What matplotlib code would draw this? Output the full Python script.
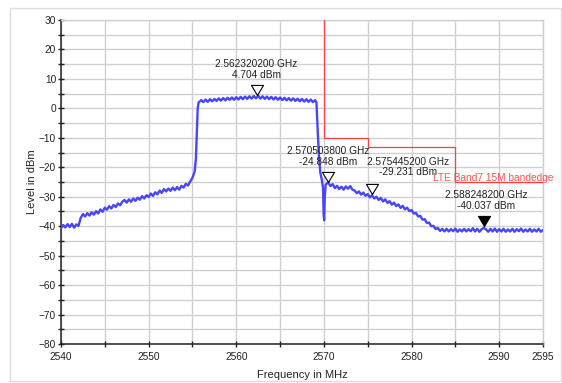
import matplotlib
matplotlib.use('Agg')
import matplotlib.pyplot as plt
from matplotlib.patches import Rectangle
from matplotlib.ticker import MultipleLocator, FixedLocator
import numpy as np

plt.rcParams['font.family'] = ['Liberation Sans', 'DejaVu Sans']

# --- spectrum trace (MHz, dBm) ---
skirt_lo_f = [2540.0, 2540.25, 2540.5, 2540.75, 2541.0, 2541.25, 2541.5, 2541.75, 2542.0, 2542.25,
              2542.5, 2542.75, 2543.0, 2543.25, 2543.5, 2543.75, 2544.0, 2544.25, 2544.5, 2544.75,
              2545.0, 2545.25, 2545.5, 2545.75, 2546.0, 2546.25, 2546.5, 2546.75, 2547.0, 2547.25,
              2547.5, 2547.75, 2548.0, 2548.25, 2548.5, 2548.75, 2549.0, 2549.25, 2549.5, 2549.75,
              2550.0, 2550.25, 2550.5, 2550.75, 2551.0, 2551.25, 2551.5, 2551.75, 2552.0, 2552.25,
              2552.5, 2552.75, 2553.0, 2553.25, 2553.5, 2553.75, 2554.0, 2554.25, 2554.5, 2554.75,
              2555.0, 2555.25, 2555.4, 2555.5, 2555.6]
skirt_lo_db = [-40.6, -39.6, -40.4, -39.3, -40.3, -39.2, -40.5, -39.4, -39.9, -37.2,
               -35.9, -36.7, -35.6, -36.4, -35.3, -36.1, -34.9, -35.7, -34.3, -35.1,
               -33.7, -34.4, -33.2, -34.0, -32.8, -33.5, -32.3, -32.9, -31.7, -31.1,
               -32.0, -30.9, -31.7, -30.6, -31.4, -30.3, -31.0, -29.8, -30.6, -29.5,
               -30.1, -28.9, -29.7, -28.5, -29.2, -27.9, -28.7, -27.4, -28.2, -27.2,
               -28.0, -26.9, -27.8, -26.7, -27.6, -26.3, -26.9, -25.6, -26.2, -24.8,
               -23.6, -21.5, -17.0, -8.0, 0.0]

channel_f = [2555.7, 2556.0, 2556.25, 2556.5, 2556.75, 2557.0, 2557.25, 2557.5, 2557.75, 2558.0,
             2558.25, 2558.5, 2558.75, 2559.0, 2559.25, 2559.5, 2559.75, 2560.0, 2560.25, 2560.5,
             2560.75, 2561.0, 2561.25, 2561.5, 2561.75, 2562.0, 2562.25, 2562.5, 2562.75, 2563.0,
             2563.25, 2563.5, 2563.75, 2564.0, 2564.25, 2564.5, 2564.75, 2565.0, 2565.25, 2565.5,
             2565.75, 2566.0, 2566.25, 2566.5, 2566.75, 2567.0, 2567.25, 2567.5, 2567.75, 2568.0,
             2568.25, 2568.5, 2568.75, 2569.0, 2569.15]
channel_db = [2.0, 2.8, 2.1, 3.0, 2.2, 3.1, 2.4, 3.2, 2.5, 3.4,
              2.6, 3.5, 2.7, 3.6, 2.9, 3.7, 2.9, 3.8, 3.0, 3.9,
              3.1, 4.0, 3.2, 4.1, 3.3, 4.2, 3.4, 4.3, 3.3, 4.1,
              3.2, 4.0, 3.1, 3.9, 3.0, 3.8, 2.9, 3.7, 2.8, 3.6,
              2.7, 3.5, 2.6, 3.4, 2.5, 3.3, 2.4, 3.2, 2.3, 3.1,
              2.2, 3.0, 2.1, 2.8, 2.0]

skirt_hi_f = [2569.3, 2569.45, 2569.6, 2569.75, 2569.9, 2569.97, 2570.03, 2570.1, 2570.2, 2570.35,
              2570.5, 2570.75, 2571.0, 2571.25, 2571.5, 2571.75, 2572.0, 2572.25, 2572.5, 2572.75,
              2573.0, 2573.25, 2573.5, 2573.75, 2574.0, 2574.25, 2574.5, 2574.75, 2575.0, 2575.25,
              2575.5, 2575.75, 2576.0, 2576.25, 2576.5, 2576.75, 2577.0, 2577.25, 2577.5, 2577.75,
              2578.0, 2578.25, 2578.5, 2578.75, 2579.0, 2579.25, 2579.5, 2579.75, 2580.0, 2580.25,
              2580.5, 2580.75, 2581.0, 2581.25, 2581.5, 2581.75, 2582.0, 2582.25, 2582.5, 2582.75,
              2583.0, 2583.25, 2583.5]
skirt_hi_db = [-8.0, -17.0, -22.0, -24.0, -27.0, -36.0, -38.0, -30.0, -26.0, -25.4,
               -25.2, -26.4, -25.7, -27.1, -26.3, -27.4, -26.6, -27.6, -26.5, -27.3,
               -26.4, -27.6, -27.9, -28.8, -28.2, -29.3, -28.6, -29.7, -29.1, -30.2,
               -29.5, -30.6, -30.0, -31.1, -30.4, -31.6, -30.9, -32.1, -31.5, -32.7,
               -32.0, -33.2, -32.6, -33.8, -33.1, -34.3, -33.7, -34.9, -34.5, -35.7,
               -35.5, -36.7, -36.5, -37.8, -37.6, -38.9, -38.8, -40.0, -39.9, -41.0,
               -40.6, -41.6, -40.9]

floor_f = [2583.75, 2584.0, 2584.25, 2584.5, 2584.75, 2585.0, 2585.25, 2585.5, 2585.75, 2586.0,
           2586.25, 2586.5, 2586.75, 2587.0, 2587.25, 2587.5, 2587.75, 2588.0, 2588.25, 2588.5,
           2588.75, 2589.0, 2589.25, 2589.5, 2589.75, 2590.0, 2590.25, 2590.5, 2590.75, 2591.0,
           2591.25, 2591.5, 2591.75, 2592.0, 2592.25, 2592.5, 2592.75, 2593.0, 2593.25, 2593.5,
           2593.75, 2594.0, 2594.25, 2594.5, 2594.75, 2595.0]
floor_db = [-41.8, -40.9, -41.8, -41.0, -41.7, -40.8, -41.9, -41.1, -41.8, -40.9,
            -41.8, -41.0, -41.7, -40.7, -41.8, -40.9, -41.9, -41.0, -40.6, -41.1,
            -41.9, -40.9, -41.8, -40.8, -41.9, -41.0, -41.8, -40.9, -41.9, -41.1,
            -41.8, -40.9, -41.9, -41.0, -41.7, -40.8, -41.9, -41.1, -41.8, -40.9,
            -41.9, -41.1, -41.8, -40.9, -41.9, -41.3]

# --- limit line (LTE Band7 15M band edge) ---
limit_f = [2570, 2570, 2575, 2575, 2585, 2585, 2595]
limit_db = [30, -10, -10, -13, -13, -25, -25]
limit_label = 'LTE Band7 15M bandedge'

# --- markers ---
marker_ghz = [2.5623202, 2.5705038, 2.5754452, 2.5882482]
marker_db = [4.704, -24.848, -29.231, -40.037]
marker_shift_px = [(0, 15), (0, 15), (36, 17), (2, 15)]
marker_filled = [False, False, False, True]

freq = skirt_lo_f + channel_f + skirt_hi_f + floor_f
level = skirt_lo_db + channel_db + skirt_hi_db + floor_db

fig = plt.figure(figsize=(5.62, 3.83), dpi=100, facecolor='white')
ax = fig.add_axes([0.1085, 0.1018, 0.8577, 0.846])

# light frame around everything
fig.patches.append(Rectangle((10 / 562, 2 / 383), 551 / 562, 373 / 383, transform=fig.transFigure,
                             fill=False, edgecolor='#dddddd', linewidth=1.0))

ax.plot(freq, level, color='#4646ff', linewidth=1.7, zorder=3)
ax.plot(limit_f, limit_db, color='#ff4040', linewidth=0.9, zorder=4)
ax.text(2582.45, -23.6, limit_label, color='#ff5050', fontsize=7.3, ha='left', va='center',
        clip_on=False, zorder=5)

tri = [(0, 0), (-0.6, 1), (0.6, 1), (0, 0)]
for g, db, (dx, dy), filled in zip(marker_ghz, marker_db, marker_shift_px, marker_filled):
    f = g * 1000
    ax.plot([f], [db], marker=tri, markersize=14.5, linestyle='none',
            markerfacecolor='black' if filled else 'white', markeredgecolor='black',
            markeredgewidth=0.8, zorder=6)
    ax.annotate(f'{g:.9f} GHz\n{db:.3f} dBm', (f, db), xytext=(dx, dy), textcoords='offset pixels',
                ha='center', va='bottom', fontsize=7.3, linespacing=1.1, color='#222222', zorder=7)

ax.set_xlim(2540, 2595)
ax.set_ylim(-80, 30)
ax.xaxis.set_major_locator(FixedLocator([2540, 2550, 2560, 2570, 2580, 2590, 2595]))
ax.xaxis.set_minor_locator(MultipleLocator(5))
ax.yaxis.set_major_locator(MultipleLocator(10))
ax.yaxis.set_minor_locator(MultipleLocator(5))
ax.grid(True, which='both', color='#cfcfcf', linewidth=1.0, zorder=0)
ax.set_axisbelow(True)

ax.tick_params(which='both', direction='inout', length=5, width=1.0, color='#222222',
               labelsize=7.3, labelcolor='#222222')
ax.tick_params(axis='x', which='both', pad=3)
ax.tick_params(axis='y', which='both', pad=1)
ax.tick_params(axis='both', which='minor', length=4)

for s in ['top', 'right']:
    ax.spines[s].set_color('#cfcfcf')
    ax.spines[s].set_linewidth(1.0)
for s in ['left', 'bottom']:
    ax.spines[s].set_color('#222222')
    ax.spines[s].set_linewidth(1.1)

ax.set_xlabel('Frequency in MHz', fontsize=8, color='#222222')
ax.set_ylabel('Level in dBm', fontsize=8, color='#222222')
ax.xaxis.set_label_coords(0.5, -0.08)
ax.yaxis.set_label_coords(-0.05, 0.5)

fig.savefig('out.png', dpi=100, facecolor='white')
